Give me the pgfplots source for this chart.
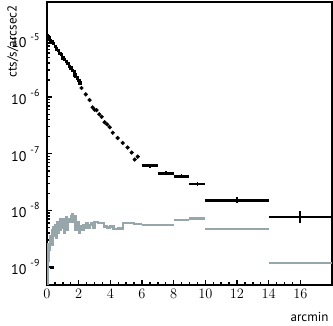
\documentclass[border=0pt]{standalone}
\usepackage{fontspec}
\setmainfont{PT Sans}
\usepackage{pgfplots}
\pgfplotsset{compat=1.18}
\definecolor{greyline}{RGB}{150,166,170}

\begin{document}
\begin{tikzpicture}
\begin{axis}[
    at={(0,0)}, anchor=south west,
    width=285pt, height=283pt, scale only axis,
    xmin=0, xmax=18,
    ymode=log, ymin=4.8e-10, ymax=4.8e-5,
    xtick={0,2,...,16}, minor x tick num=3,
    ytick={1e-9,1e-8,1e-7,1e-6,1e-5},
    yticklabels={10\hspace{4pt}\raisebox{1.1ex}{\fontsize{10}{12}\selectfont -9},
                 10\hspace{4pt}\raisebox{1.1ex}{\fontsize{10}{12}\selectfont -8},
                 10\hspace{4pt}\raisebox{1.1ex}{\fontsize{10}{12}\selectfont -7},
                 10\hspace{4pt}\raisebox{1.1ex}{\fontsize{10}{12}\selectfont -6},
                 10\hspace{4pt}\raisebox{1.1ex}{\fontsize{10}{12}\selectfont -5}},
    xtick pos=left, ytick pos=left, tick align=inside,
    axis line style={line width=2pt},
    major tick length=5pt, minor tick length=3pt,
    every tick/.style={black, line width=1.4pt},
    tick label style={font=\fontsize{14}{16}\selectfont},
    yticklabel style={xshift=-4pt},
    xticklabel style={yshift=-1pt},
    xlabel={arcmin}, ylabel={cts/s/arcsec2},
    label style={font=\fontsize{13}{15}\selectfont},
    xlabel style={at={(axis description cs:1,0)}, anchor=north east, yshift=-24pt},
    ylabel style={at={(axis description cs:-0.12,1)}, anchor=east},
    unbounded coords=jump,
]
% grey profile, fine bins
\addplot[const plot, greyline, line width=2.2pt] coordinates {
(0.00,5.0e-10) (0.05,1.26e-9) (0.10,2.5e-9) (0.15,2.0e-9) (0.20,3.55e-9)
(0.25,2.8e-9) (0.30,4.5e-9) (0.35,2.5e-9) (0.40,5.0e-9) (0.45,3.5e-9)
(0.50,5.6e-9) (0.55,3.2e-9) (0.60,5.0e-9) (0.65,6.3e-9) (0.70,4.0e-9)
(0.75,5.6e-9) (0.80,7.1e-9) (0.85,4.5e-9) (0.90,6.3e-9) (0.95,5.0e-9)
(1.00,7.1e-9) (1.05,4.0e-9) (1.10,6.3e-9) (1.15,5.0e-9) (1.20,7.6e-9)
(1.25,5.6e-9) (1.30,4.5e-9) (1.35,7.1e-9) (1.40,6.3e-9) (1.50,7.9e-9)
(1.60,8.5e-9) (1.65,6.3e-9) (1.70,7.9e-9) (1.80,4.5e-9) (1.90,6.3e-9)
(2.00,4.0e-9) (2.10,5.2e-9) (2.20,4.5e-9) (2.30,5.6e-9) (2.40,5.0e-9)
(2.50,6.0e-9) (2.60,5.0e-9) (2.70,5.6e-9) (2.80,6.0e-9) (2.90,5.0e-9)
(3.00,6.3e-9) (3.20,6.0e-9) (3.40,5.9e-9) (3.60,5.2e-9) (3.80,5.0e-9)
(4.00,5.2e-9) (4.20,4.7e-9) (4.50,4.8e-9) (4.80,5.9e-9) (5.00,6.0e-9)
(5.50,5.75e-9) (6.00,5.75e-9)
};
% grey profile, wide bins
\addplot[greyline, line width=2.2pt] coordinates {
(6,5.6e-9) (7,5.6e-9) (7,nan)
(7,5.5e-9) (8,5.5e-9) (8,nan)
(8,6.8e-9) (9,6.8e-9) (9,nan)
(9,7.2e-9) (10,7.2e-9) (10,nan)
(10,4.7e-9) (14,4.7e-9) (14,nan)
(14,1.17e-9) (18,1.17e-9)
};
% black profile, fine bins
\addplot[only marks, mark=square*, mark size=1.2pt, black] coordinates {
(0.00,1.23e-5) (0.05,1.17e-5) (0.10,1.12e-5) (0.15,1.10e-5) (0.20,1.02e-5)
(0.30,9.5e-6) (0.40,8.9e-6) (0.50,7.9e-6) (0.60,7.2e-6) (0.70,6.8e-6)
(0.80,6.0e-6) (0.90,5.75e-6) (1.00,5.0e-6) (1.10,4.7e-6) (1.20,4.3e-6)
(1.30,4.0e-6) (1.40,3.55e-6) (1.50,3.3e-6) (1.60,3.0e-6) (1.70,2.8e-6)
(1.75,2.5e-6) (1.80,2.4e-6) (1.90,2.2e-6) (2.00,2.0e-6) (2.06,1.8e-6)
(0.30,1.0e-9)
};
\addplot[only marks, mark=*, mark size=1.9pt, black] coordinates {
(2.18,1.45e-6) (2.45,1.12e-6) (2.69,8.9e-7) (2.88,6.6e-7) (3.00,6.0e-7)
(3.13,5.9e-7) (3.30,5.0e-7) (3.45,4.5e-7) (3.64,3.6e-7) (3.80,3.3e-7)
(3.96,2.95e-7) (4.15,2.35e-7) (4.46,1.9e-7) (4.78,1.55e-7) (5.09,1.29e-7)
(5.35,1.05e-7) (5.54,7.9e-8) (5.73,8.9e-8)
};
% black profile, wide bins
\addplot[black, line width=2.5pt] coordinates {
(6,6.2e-8) (7,6.2e-8) (7,nan)
(7,4.5e-8) (8,4.5e-8) (8,nan)
(8,4.0e-8) (9,4.0e-8) (9,nan)
(9,2.95e-8) (10,2.95e-8) (10,nan)
(10,1.5e-8) (14,1.5e-8) (14,nan)
(14,7.6e-9) (18,7.6e-9)
};
% black error ticks
\addplot[black, line width=1.8pt] coordinates {
(6.5,5.7e-8) (6.5,6.7e-8) (6.5,nan)
(7.5,4.15e-8) (7.5,4.9e-8) (7.5,nan)
(8.5,3.7e-8) (8.5,4.35e-8) (8.5,nan)
(9.5,2.7e-8) (9.5,3.2e-8) (9.5,nan)
(12,1.34e-8) (12,1.7e-8) (12,nan)
(16,5.9e-9) (16,9.8e-9)
};
\end{axis}
\pgfresetboundingbox
\path[use as bounding box] (-47pt,-40pt) rectangle (286pt,285pt);
\end{tikzpicture}
\end{document}
